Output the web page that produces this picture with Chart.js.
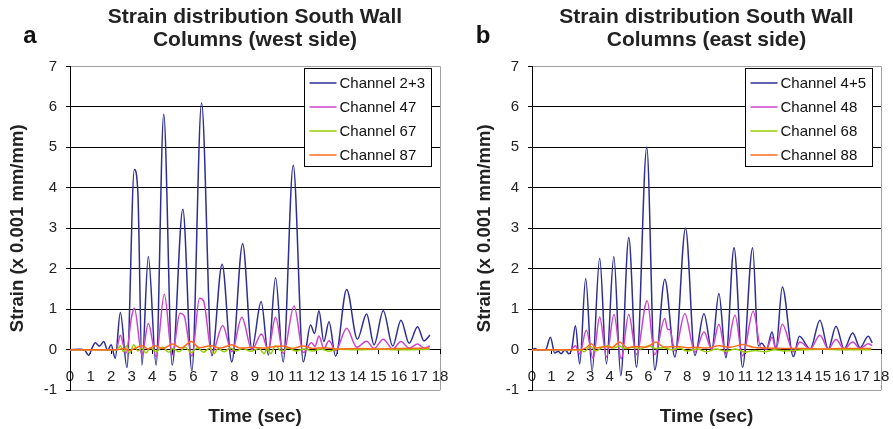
<!DOCTYPE html>
<html>
<head>
<meta charset="utf-8">
<script src="https://cdn.jsdelivr.net/npm/chart.js@4"></script>
<style>
  html, body { margin: 0; padding: 0; background: #fff; }
  #wrap { position: relative; width: 893px; height: 429px; overflow: hidden; }
  canvas { position: absolute; top: 0; }
  #chartA { left: 0; }
  #chartB { left: 447px; }
</style>
</head>
<body>
<div id="wrap">
  <canvas id="chartA" width="460" height="429"></canvas>
  <canvas id="chartB" width="446" height="429"></canvas>
</div>
<script>
// ---- panel a : west side ----
const tA23 = [0, 0.5, 0.7, 0.91, 1.08, 1.23, 1.43, 1.64, 1.83, 2.0, 2.2, 2.45, 2.77, 3.13, 3.3, 3.5, 3.81, 4.19, 4.56, 4.97, 5.49, 5.93, 6.4, 6.9, 7.4, 7.87, 8.4, 8.85, 9.3, 9.65, 10.0, 10.37, 10.86, 11.35, 11.7, 11.9, 12.11, 12.35, 12.6, 12.92, 13.46, 13.98, 14.43, 14.79, 15.24, 15.7, 16.1, 16.5, 16.91, 17.22, 17.51];
const vA23 = [0, 0.01, 0, -0.14, 0.05, 0.17, 0.09, 0.2, -0.02, 0.12, -0.21, 0.92, -0.44, 4.45, 3.9, -0.38, 2.3, -0.38, 5.82, -0.38, 3.47, -0.52, 6.1, -0.15, 2.11, -0.3, 2.62, 0.02, 1.19, -0.13, 1.78, -0.3, 4.56, -0.3, 0.61, 0.4, 0.96, 0.2, 0.69, -0.16, 1.49, 0.26, 0.88, 0.12, 0.96, 0.09, 0.73, 0.16, 0.57, 0.22, 0.36];

const tA47 = [0, 2.25, 2.45, 2.72, 3.0, 3.13, 3.5, 3.81, 4.19, 4.59, 4.97, 5.35, 5.55, 5.93, 6.3, 6.5, 6.9, 7.43, 7.87, 8.36, 8.85, 9.32, 9.64, 10.0, 10.38, 10.9, 11.35, 11.75, 11.92, 12.11, 12.35, 12.6, 12.92, 13.46, 13.95, 14.43, 14.79, 15.24, 15.7, 16.1, 16.5, 16.91, 17.22, 17.51];
const vA47 = [0, 0, 0.36, -0.09, 0.82, 1.03, -0.13, 0.65, -0.17, 1.37, -0.13, 0.9, 0.84, -0.16, 1.27, 1.2, -0.1, 0.6, -0.05, 0.8, 0, 0.39, 0, 0.8, -0.09, 1.08, -0.07, 0.17, 0.08, 0.34, 0.03, 0.22, -0.02, 0.53, 0.06, 0.21, 0.03, 0.26, 0.02, 0.2, 0.04, 0.14, 0.04, 0.09];

const tA67 = [0, 2.3, 2.45, 2.6, 2.75, 2.9, 3.1, 3.3, 3.5, 3.7, 3.9, 4.2, 4.5, 4.8, 5.0, 5.3, 5.6, 5.9, 6.2, 6.5, 6.8, 7.0, 7.2, 7.5, 7.8, 8.1, 8.4, 8.8, 9.2, 9.45, 9.6, 9.75, 10.0, 10.3, 10.6, 11.0, 11.4, 11.8, 12.2, 12.6, 13.0, 14.0, 15.0, 16.0, 17.5];
const vA67 = [0, 0, 0.1, -0.05, 0.1, -0.08, 0.12, -0.03, 0.04, -0.08, 0.05, -0.05, 0.07, -0.06, 0.03, -0.05, 0.06, -0.07, 0.05, -0.06, 0.04, -0.1, 0.03, -0.05, 0.04, -0.03, 0.03, -0.04, 0.03, -0.1, 0.05, -0.1, 0.1, -0.04, 0.04, -0.03, 0.02, -0.03, 0.02, -0.04, 0.01, 0, 0.01, 0, 0.01];

const tA87 = [0, 2.3, 2.6, 2.9, 3.1, 3.5, 3.8, 4.15, 4.5, 5.0, 5.4, 5.9, 6.3, 6.83, 7.3, 7.87, 8.3, 8.9, 9.4, 9.8, 10.38, 10.8, 11.35, 11.8, 12.4, 13.0, 14.0, 15.0, 16.0, 17.5];
const vA87 = [0, 0, 0.03, -0.02, 0.02, 0.1, 0.02, 0.1, 0.03, 0.14, 0.04, 0.2, 0.05, 0.1, 0.04, 0.12, 0.04, 0.06, 0.04, 0.07, 0.09, 0.03, 0.09, 0.03, 0.05, 0.02, 0.03, 0.02, 0.03, 0.04];

// ---- panel b : east side ----
const tB45 = [0, 0.15, 0.3, 0.7, 0.95, 1.17, 1.35, 1.5, 1.7, 1.9, 2.05, 2.24, 2.46, 2.77, 3.1, 3.49, 3.84, 4.22, 4.58, 4.99, 5.39, 5.92, 6.33, 6.85, 7.37, 7.92, 8.4, 8.87, 9.27, 9.64, 10.0, 10.42, 10.86, 11.38, 11.67, 11.85, 12.1, 12.38, 12.58, 12.91, 13.48, 13.79, 14.35, 14.85, 15.28, 15.68, 16.1, 16.54, 16.92, 17.34, 17.55];
const vB45 = [0, 0.03, -0.01, 0, 0.31, -0.08, -0.04, -0.1, 0, -0.1, 0.02, 0.59, -0.35, 1.76, -0.53, 2.26, -0.35, 2.3, -0.64, 2.77, -0.43, 5.0, -0.5, 1.74, -0.18, 3.0, -0.14, 0.89, 0, 1.39, -0.2, 2.52, -0.43, 2.52, 0.1, 0.16, 0.02, 0.44, 0.02, 1.55, -0.17, 0.33, 0.02, 0.73, 0.02, 0.58, 0.02, 0.41, 0.05, 0.33, 0.17];

const tB48 = [0, 2.0, 2.24, 2.46, 2.8, 3.15, 3.49, 3.84, 4.23, 4.6, 4.99, 5.39, 5.94, 6.33, 6.85, 7.0, 7.1, 7.37, 7.88, 8.4, 8.87, 9.27, 9.64, 10.0, 10.47, 10.86, 11.41, 11.8, 12.1, 12.38, 12.58, 12.91, 13.48, 13.82, 14.35, 14.85, 15.28, 15.68, 16.1, 16.54, 16.92, 17.34, 17.55];
const vB48 = [0, 0, 0.1, -0.1, 0.48, -0.22, 0.81, -0.18, 0.87, -0.22, 0.87, -0.12, 1.21, -0.12, 0.77, 0.5, 0.5, -0.03, 0.89, -0.06, 0.44, 0, 0.63, -0.1, 0.85, -0.15, 0.95, 0.05, 0.02, 0.31, 0.02, 0.63, -0.05, 0.19, 0.02, 0.36, 0.02, 0.25, 0.02, 0.19, 0.03, 0.15, 0.1];

const tB68 = [0, 2.5, 2.7, 3.0, 3.3, 3.6, 3.9, 4.2, 4.5, 4.8, 5.2, 5.6, 6.0, 6.4, 6.8, 7.2, 7.6, 8.0, 8.5, 9.0, 9.5, 10.0, 10.5, 11.0, 11.5, 12.0, 12.5, 13.0, 14.0, 15.0, 16.0, 17.5];
const vB68 = [0, 0, -0.05, 0.08, -0.03, 0.05, 0.1, 0.04, 0.09, 0.03, 0.06, 0.02, 0.1, 0.03, 0.05, 0, 0.04, -0.03, 0.02, -0.05, 0.02, -0.04, 0.02, -0.06, -0.02, -0.05, 0, -0.03, 0, 0.01, 0, 0];

const tB88 = [0, 2.5, 2.8, 3.06, 3.3, 3.8, 4.1, 4.52, 4.9, 5.4, 5.9, 6.38, 6.8, 7.5, 8.0, 8.5, 9.0, 9.64, 10.2, 10.9, 11.4, 12.0, 13.0, 14.0, 15.0, 16.0, 17.5];
const vB88 = [0, 0, 0.05, 0.15, 0.04, 0.08, 0.05, 0.19, 0.05, 0.08, 0.06, 0.19, 0.07, 0.08, 0.05, 0.06, 0.04, 0.1, 0.06, 0.13, 0.06, 0.04, 0.03, 0.03, 0.02, 0.03, 0.03];

const FONT = "'Liberation Sans', Arial, Helvetica, sans-serif";
Chart.defaults.font.family = FONT;
Chart.defaults.color = '#222';

const BLUE = '#2e2e94', PINK = '#cc44cc', GREEN = '#99cc00', ORANGE = '#ff6a1a';

function pts(ts, vs) {
  return ts.map((t, i) => ({x: t, y: vs[i]}));
}

// legend drawn as a framed box inside the plot, like the original
const boxLegend = {
  id: 'boxLegend',
  afterDraw(chart, args, opts) {
    const ctx = chart.ctx, area = chart.chartArea;
    const sets = chart.data.datasets;
    ctx.save();
    ctx.font = '15px ' + FONT;
    let tw = 0;
    sets.forEach(d => { tw = Math.max(tw, ctx.measureText(d.label).width); });
    const w = Math.round(tw + 42), h = sets.length * 24 + 2;
    const x = Math.round(area.right - opts.right - w) + 0.5;
    const y = Math.round(area.top + opts.top) + 0.5;
    ctx.fillStyle = '#fff';
    ctx.fillRect(x, y, w, h);
    ctx.strokeStyle = '#000';
    ctx.lineWidth = 1;
    ctx.strokeRect(x, y, w, h);
    ctx.textBaseline = 'middle';
    sets.forEach((d, i) => {
      const cy = Math.round(y + 14 + i * 24);
      ctx.strokeStyle = d.borderColor;
      ctx.lineWidth = 1.5;
      ctx.beginPath();
      ctx.moveTo(x + 5, cy);
      ctx.lineTo(x + 32, cy);
      ctx.stroke();
      ctx.fillStyle = '#111';
      ctx.fillText(d.label, x + 35, cy + 1);
    });
    ctx.restore();
  }
};

const panelLetter = {
  id: 'panelLetter',
  afterDraw(chart, args, opts) {
    const ctx = chart.ctx;
    ctx.save();
    ctx.font = 'bold 24px ' + FONT;
    ctx.fillStyle = '#111';
    ctx.textAlign = 'center';
    ctx.textBaseline = 'alphabetic';
    ctx.fillText(opts.text, opts.x, opts.y);
    ctx.restore();
  }
};

function makeChart(id, cfg) {
  const n = cfg.series.length;
  return new Chart(document.getElementById(id), {
    type: 'line',
    data: {
      datasets: cfg.series.map((s, i) => ({
        label: s.label,
        data: pts(s.t, s.v),
        borderColor: s.color,
        borderWidth: 1.5,
        pointRadius: 0,
        cubicInterpolationMode: 'monotone',
        fill: false,
        order: n - 1 - i
      }))
    },
    options: {
      responsive: false,
      animation: false,
      events: [],
      layout: { padding: { left: cfg.padLeft, right: cfg.padRight, top: 0, bottom: 0 } },
      scales: {
        x: {
          type: 'linear',
          position: { y: 0 },
          min: 0,
          max: 18,
          afterFit: s => { s.paddingLeft = 0; s.paddingRight = 0; },
          ticks: { stepSize: 1, autoSkip: false, maxRotation: 0, minRotation: 0, padding: 14, font: { size: 15 }, color: '#222' },
          grid: {
            color: c => (c.tick && c.tick.value === 18) ? '#a0a0a0' : 'rgba(0,0,0,0)',
            tickColor: '#000',
            tickLength: 4
          },
          border: { color: '#000', width: 1 }
        },
        y: {
          min: -1,
          max: 7,
          afterFit: s => { s.width = cfg.yWidth; },
          ticks: { stepSize: 0.5, callback: v => Number.isInteger(v) ? v : '', padding: 9, font: { size: 15 }, color: '#222' },
          grid: {
            color: c => {
              const v = c.tick.value;
              if (v === 7 || v === -1) return '#a0a0a0';
              return Number.isInteger(v) ? '#000' : 'rgba(0,0,0,0)';
            },
            tickColor: '#000',
            tickLength: 4
          },
          border: { color: '#000', width: 1 },
          title: {
            display: true,
            text: 'Strain (x 0.001 mm/mm)',
            font: { size: 18.5, weight: 'bold' },
            color: '#222',
            padding: { top: 7, bottom: 0 }
          }
        }
      },
      plugins: {
        legend: { display: false },
        tooltip: { enabled: false },
        title: {
          display: true,
          fullSize: false,
          text: cfg.title,
          color: '#222',
          font: { size: 21, weight: 'bold', lineHeight: 1.08 },
          padding: { top: 6, bottom: 15 }
        },
        subtitle: {
          display: true,
          position: 'bottom',
          fullSize: false,
          text: 'Time (sec)',
          color: '#222',
          font: { size: 19, weight: 'bold' },
          padding: { top: 15, bottom: 1 }
        },
        boxLegend: { right: 9, top: 2 },
        panelLetter: { text: cfg.letter, x: cfg.letterX, y: 43 }
      }
    },
    plugins: [boxLegend, panelLetter]
  });
}

makeChart('chartA', {
  title: ['Strain distribution South Wall', 'Columns (west side)'],
  letter: 'a', letterX: 30,
  padLeft: 0, yWidth: 70, padRight: 20,
  series: [
    { label: 'Channel 2+3', t: tA23, v: vA23, color: BLUE },
    { label: 'Channel 47', t: tA47, v: vA47, color: PINK },
    { label: 'Channel 67', t: tA67, v: vA67, color: GREEN },
    { label: 'Channel 87', t: tA87, v: vA87, color: ORANGE }
  ]
});

makeChart('chartB', {
  title: ['Strain distribution South Wall', 'Columns (east side)'],
  letter: 'b', letterX: 36,
  padLeft: 20, yWidth: 65, padRight: 12,
  series: [
    { label: 'Channel 4+5', t: tB45, v: vB45, color: BLUE },
    { label: 'Channel 48', t: tB48, v: vB48, color: PINK },
    { label: 'Channel 68', t: tB68, v: vB68, color: GREEN },
    { label: 'Channel 88', t: tB88, v: vB88, color: ORANGE }
  ]
});
</script>
</body>
</html>
